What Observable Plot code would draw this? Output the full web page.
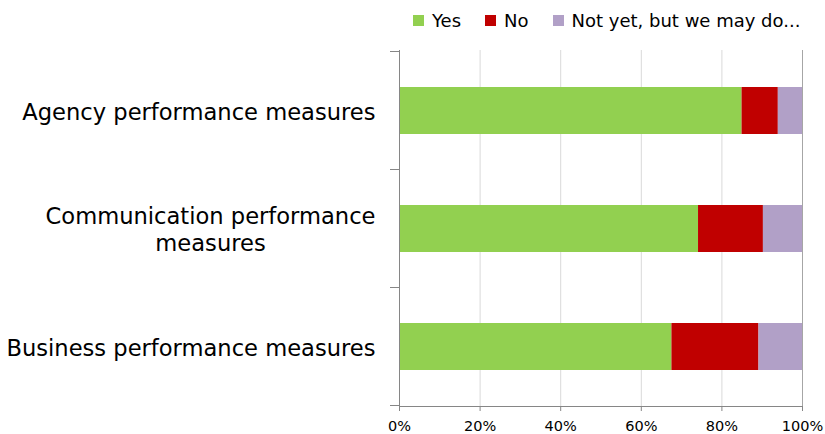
<!DOCTYPE html>
<html>
<head>
<meta charset="utf-8">
<script src="https://cdn.jsdelivr.net/npm/d3@7"></script>
<script src="https://cdn.jsdelivr.net/npm/@observablehq/plot@0.6"></script>
<style>
  html, body { margin: 0; padding: 0; background: #fff; }
  body { width: 825px; height: 434px; overflow: hidden; font-family: "DejaVu Sans", sans-serif; }
  #legend { position: relative; height: 40px; display: flex; align-items: center; padding-left: 413px; box-sizing: border-box; font-size: 18px; color: #000; }
  #legend .item { display: flex; align-items: center; margin-right: 24px; }
  #legend .sw { width: 11px; height: 11px; margin-right: 8px; display: inline-block; }
  svg { display: block; }
</style>
</head>
<body>
<div id="legend"></div>
<div id="chart"></div>
<script>
const categories = [
  "Agency performance measures",
  "Communication performance\nmeasures",
  "Business performance measures"
];
const seriesNames = ["Yes", "No", "Not yet, but we may do..."];
const seriesColors = ["#92D050", "#C00000", "#B1A0C7"];
const yesValues = [85.0, 74.2, 67.6];
const noValues = [9.0, 16.1, 21.6];
const notYetValues = [6.0, 9.7, 10.8];
const xTicks = [0, 0.2, 0.4, 0.6, 0.8, 1];

const seriesValues = [yesValues, noValues, notYetValues];
const data = [];
categories.forEach((c, i) => {
  seriesNames.forEach((s, j) => {
    data.push({category: c, series: s, value: seriesValues[j][i] / 100});
  });
});

// legend
const legend = document.getElementById("legend");
seriesNames.forEach((s, j) => {
  const item = document.createElement("span");
  item.className = "item";
  const sw = document.createElement("span");
  sw.className = "sw";
  sw.style.background = seriesColors[j];
  const t = document.createElement("span");
  t.textContent = s;
  item.append(sw, t);
  legend.append(item);
});

// ticks between category bands (Excel style)
function bandBoundaryTicks(index, scales, values, dimensions) {
  const y = scales.y;
  const bw = typeof y.bandwidth === "function" ? y.bandwidth() : (y.bandwidth || 0);
  const centers = categories.map(c => y(c) + bw / 2);
  const bounds = [];
  const step = centers[1] - centers[0];
  bounds.push(centers[0] - step / 2);
  for (let i = 0; i < centers.length - 1; i++) bounds.push((centers[i] + centers[i + 1]) / 2);
  bounds.push(centers[centers.length - 1] + step / 2);
  const g = d3.create("svg:g");
  const x0 = dimensions.marginLeft;
  g.selectAll("line").data(bounds).join("line")
    .attr("x1", x0 - 9).attr("x2", x0)
    .attr("y1", d => d).attr("y2", d => d)
    .attr("stroke", "#868686").attr("stroke-width", 1);
  return g.node();
}

const chart = Plot.plot({
  width: 825,
  height: 394,
  marginLeft: 399,
  marginRight: 23,
  marginTop: 10,
  marginBottom: 28,
  style: {fontFamily: "DejaVu Sans, sans-serif", fontSize: "14.5px", color: "#000", background: "#fff"},
  x: {domain: [0, 1]},
  y: {domain: categories, paddingInner: 0.604, paddingOuter: 0.302},
  color: {domain: seriesNames, range: seriesColors},
  marks: [
    Plot.gridX(xTicks, {stroke: "#d9d9d9", strokeOpacity: 1}),
    Plot.barX(data, Plot.stackX({
      x: "value", y: "category", fill: "series", order: seriesNames
    })),
    Plot.frame({anchor: "right", stroke: "#a6a6a6"}),
    Plot.frame({anchor: "left", stroke: "#868686"}),
    Plot.frame({anchor: "bottom", stroke: "#868686"}),
    bandBoundaryTicks,
    Plot.axisX({
      ticks: xTicks, tickFormat: d3.format(".0%"), tickSize: 5, tickPadding: 9,
      stroke: "#868686", fill: "#000", label: null, fontSize: 14.5
    }),
    Plot.axisY({
      tickSize: 0, tickPadding: 24, fill: "#000", label: null,
      fontSize: 22.6, lineHeight: 1.19
    })
  ]
});

document.getElementById("chart").append(chart);

// center multi-line category labels, keeping the block right-aligned
chart.querySelectorAll('g[aria-label="y-axis tick label"] text').forEach(t => {
  if (t.querySelectorAll("tspan").length > 1) {
    const w = t.getBBox().width;
    t.setAttribute("text-anchor", "middle");
    const tr = t.getAttribute("transform") || "";
    t.setAttribute("transform", tr + ` translate(${-w / 2},0)`);
  }
});
</script>
</body>
</html>
